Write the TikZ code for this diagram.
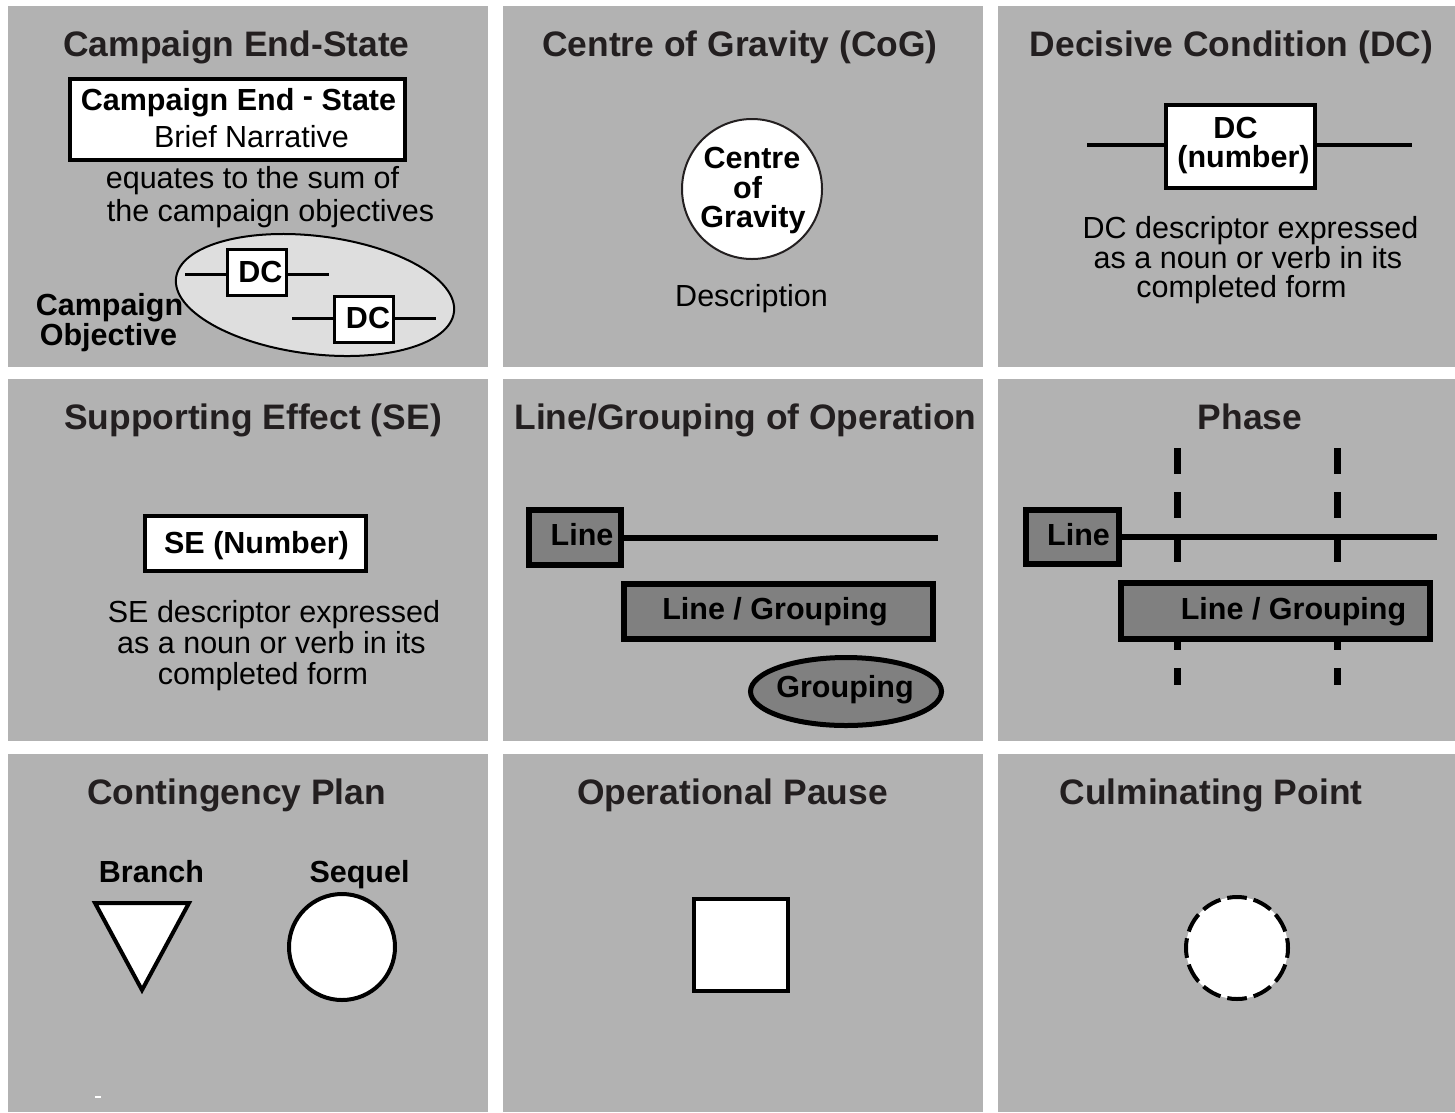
\documentclass[tikz,border=0pt]{standalone}
\usepackage{fontspec}
\setmainfont{Liberation Sans}
\usetikzlibrary{shapes.geometric}
\definecolor{panel}{HTML}{B2B2B2}
\definecolor{titleink}{HTML}{231F20}
\definecolor{bandfill}{HTML}{808080}
\definecolor{objfill}{HTML}{DEDEDE}
\tikzset{
  ttl/.style={anchor=base, inner sep=0pt, text=titleink, font=\fontsize{35.4}{40}\selectfont\bfseries},
  txt/.style={anchor=base, inner sep=0pt, font=\fontsize{30.5}{34}\selectfont},
  btxt/.style={anchor=base, inner sep=0pt, font=\fontsize{30.5}{34}\selectfont\bfseries},
  whitebox/.style={draw=black, fill=white, line width=4pt, inner sep=0pt, rectangle},
  dcbox/.style={draw=black, fill=white, line width=3pt, inner sep=0pt, rectangle},
  bandbox/.style={draw=black, fill=bandfill, line width=6pt, inner sep=0pt, rectangle},
  thinrule/.style={draw=black, line width=3pt},
  thickrule/.style={draw=black, line width=6pt},
  phaserule/.style={draw=black, line width=7pt, dash pattern=on 26pt off 18pt},
}
\begin{document}
\begin{tikzpicture}[x=1pt,y=-1pt]
\useasboundingbox (0,0) rectangle (1455,1112);
\fill[white] (0,0) rectangle (1455,1112);

% the nine grey panels
\fill[panel] (8,6) rectangle (488,367);
\fill[panel] (503,6) rectangle (983,367);
\fill[panel] (998,6) rectangle (1455,367);
\fill[panel] (8,379) rectangle (488,741);
\fill[panel] (503,379) rectangle (983,741);
\fill[panel] (998,379) rectangle (1455,741);
\fill[panel] (8,754) rectangle (488,1112);
\fill[panel] (503,754) rectangle (983,1112);
\fill[panel] (998,754) rectangle (1455,1112);

% ---- Campaign End-State
\node[ttl] (t1) at (236.5,56) {Campaign End-State};
\node[whitebox, minimum width=335pt, minimum height=81pt] (cesbox) at (237.5,119.5) {};
\node[btxt] (cesname) at (238.5,110) {Campaign End \raisebox{4pt}{-} State};
\node[txt] (cesnarr) at (251.5,147) {Brief Narrative};
\node[txt] (eq1) at (252.5,188) {equates to the sum of};
\node[txt] (eq2) at (270.5,221) {the campaign objectives};
\node[draw=black, fill=objfill, ellipse, line width=2pt, inner sep=0pt,
      minimum width=280pt, minimum height=118pt, rotate=-7] (objell) at (315,295) {};
\node[dcbox, minimum width=59pt, minimum height=46pt] (dca) at (257,272.5) {};
\coordinate (dcaL) at (185,274);
\coordinate (dcaR) at (329,274);
\draw[thinrule] (dcaL) -- (dcaL -| dca.west);
\draw[thinrule] (dca.east |- dcaR) -- (dcaR);
\node[btxt] (dcatxt) at (260.5,282) {DC};
\node[dcbox, minimum width=59pt, minimum height=46pt] (dcb) at (364,319.5) {};
\coordinate (dcbL) at (292,318);
\coordinate (dcbR) at (436,318);
\draw[thinrule] (dcbL) -- (dcbL -| dcb.west);
\draw[thinrule] (dcb.east |- dcbR) -- (dcbR);
\node[btxt] (dcbtxt) at (368,328) {DC};
\node[btxt] (objA) at (109.5,315) {Campaign};
\node[btxt] (objB) at (108.5,345) {Objective};

% ---- Centre of Gravity
\node[ttl] (t2) at (740,56) {Centre of Gravity (CoG)};
\node[draw=titleink, fill=white, circle, line width=2pt, inner sep=0pt, minimum size=140pt] (cog) at (752,189) {};
\node[btxt] (cog1) at (752,168) {Centre};
\node[btxt] (cog2) at (747.5,198) {of};
\node[btxt] (cog3) at (753,227) {Gravity};
\node[txt] (cogd) at (751.5,306) {Description};

% ---- Decisive Condition
\node[ttl] (t3) at (1231.5,56) {Decisive Condition (DC)};
\node[whitebox, line width=4.5pt, minimum width=149pt, minimum height=83pt] (dcbox) at (1240.5,146.5) {};
\coordinate (dcL) at (1087,145);
\coordinate (dcR) at (1412,145);
\draw[line width=4pt] (dcL) -- (dcL -| dcbox.west);
\draw[line width=4pt] (dcbox.east |- dcR) -- (dcR);
\node[btxt] (dcn1) at (1235.5,138) {DC};
\node[btxt] (dcn2) at (1243.5,167) {(number)};
\node[txt] (dcd1) at (1250.5,238) {DC descriptor expressed};
\node[txt] (dcd2) at (1248,268) {as a noun or verb in its};
\node[txt] (dcd3) at (1241.5,297) {completed form};

% ---- Supporting Effect
\node[ttl] (t4) at (253,429) {Supporting Effect (SE)};
\node[whitebox, minimum width=221pt, minimum height=55pt] (sebox) at (255.5,543.5) {};
\node[btxt] (setxt) at (256.5,553) {SE (Number)};
\node[txt] (sed1) at (274,622) {SE descriptor expressed};
\node[txt] (sed2) at (271.5,653) {as a noun or verb in its};
\node[txt] (sed3) at (263,684) {completed form};

% ---- Line/Grouping of Operation
\node[ttl] (t5) at (745.5,429) {Line/Grouping of Operation};
\node[bandbox, minimum width=92pt, minimum height=55pt] (loline) at (575,537.5) {};
\node[btxt] (lolinetxt) at (582,545) {Line};
\coordinate (loEnd) at (938,538);
\draw[thickrule] (loline.east |- loEnd) -- (loEnd);
\node[bandbox, minimum width=309pt, minimum height=55pt] (logrp) at (778.5,611.5) {};
\node[btxt] (logrptxt) at (775,619) {Line / Grouping};
\node[draw=black, fill=bandfill, ellipse, line width=5pt, inner sep=0pt,
      minimum width=191pt, minimum height=68pt] (grp) at (846,691.5) {};
\node[btxt] (grptxt) at (845,697) {Grouping};

% ---- Phase
\node[ttl] (t6) at (1250,429) {Phase};
\coordinate (phAtop) at (1177,448);
\coordinate (phAbot) at (1177,685);
\coordinate (phBtop) at (1337,448);
\coordinate (phBbot) at (1337,685);
\draw[phaserule] (phAtop) -- (phAbot);
\draw[phaserule] (phBtop) -- (phBbot);
\node[bandbox, minimum width=93pt, minimum height=54pt] (phline) at (1072.5,537) {};
\node[btxt] (phlinetxt) at (1078.5,545) {Line};
\coordinate (phEnd) at (1437,537);
\draw[thickrule] (phline.east |- phEnd) -- (phEnd);
\node[bandbox, minimum width=309pt, minimum height=56pt] (phgrp) at (1275.5,611) {};
\node[btxt] (phgrptxt) at (1293.5,619) {Line / Grouping};

% ---- Contingency Plan
\node[ttl] (t7) at (236.5,804) {Contingency Plan};
\node[btxt] (branch) at (151.5,882) {Branch};
\node[btxt] (sequel) at (359.5,882) {Sequel};
\draw[line width=4pt, fill=white, miter limit=10] (95,903) -- (189,903) -- (142,990) -- cycle;
\node[draw=black, fill=white, circle, line width=4pt, inner sep=0pt, minimum size=106pt] (seqc) at (342,947) {};
\fill[white] (95,1096) rectangle (101,1098);

% ---- Operational Pause
\node[ttl] (t8) at (732.5,804) {Operational Pause};
\node[whitebox, minimum width=94pt, minimum height=92pt] (pause) at (741,945) {};

% ---- Culminating Point
\node[ttl] (t9) at (1211,804) {Culminating Point};
\node[draw=black, fill=white, circle, line width=4pt, inner sep=0pt, minimum size=102pt,
      dash pattern=on 19.7pt off 7pt, dash phase=9.85pt] (culm) at (1237,948) {};
\end{tikzpicture}
\end{document}
